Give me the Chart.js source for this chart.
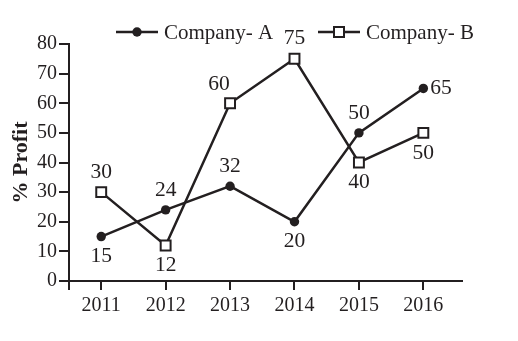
<!DOCTYPE html>
<html>
<head>
<meta charset="utf-8">
<script src="https://cdn.jsdelivr.net/npm/chart.js@4.4.0/dist/chart.umd.min.js"></script>
<style>
  html, body { margin: 0; padding: 0; background: #fff; }
  #wrap { width: 518px; height: 341px; }
</style>
</head>
<body>
<div id="wrap"><canvas id="profitChart" width="518" height="341"></canvas></div>
<script>
// Yearly % profit of the two companies
const years = [2011, 2012, 2013, 2014, 2015, 2016];
const companyA = [15, 24, 32, 20, 50, 65];
const companyB = [30, 12, 60, 75, 40, 50];
const yTicks = [0, 10, 20, 30, 40, 50, 60, 70, 80];

const ink = '#231f20';
const serif = "'Liberation Serif', 'Times New Roman', serif";

// Value labels next to each point, placed per dataset
const valueLabels = {
    id: 'valueLabels',
    afterDatasetsDraw(chart) {
        const ctx = chart.ctx;
        ctx.save();
        ctx.font = '21.5px ' + serif;
        ctx.fillStyle = ink;
        ctx.textBaseline = 'middle';
        chart.data.datasets.forEach((ds, di) => {
            const meta = chart.getDatasetMeta(di);
            meta.data.forEach((pt, i) => {
                const where = ds.labelPlace[i];
                let x = pt.x, y = pt.y;
                ctx.textAlign = 'center';
                if (where === 'above') y -= 20;
                else if (where === 'aboveLeft') { y -= 19; x -= 11; }
                else if (where === 'below') y += 20;
                else if (where === 'right') { x += 7; ctx.textAlign = 'left'; }
                ctx.fillText(String(ds.data[i].y), x, y);
            });
        });
        ctx.restore();
    }
};

// Legend drawn as line + marker + text above the plot
const lineLegend = {
    id: 'lineLegend',
    afterDraw(chart) {
        const ctx = chart.ctx;
        const items = [
            { x: 116, label: 'Company- A', marker: 'circle' },
            { x: 318, label: 'Company- B', marker: 'square' }
        ];
        const y = 32;
        ctx.save();
        ctx.strokeStyle = ink;
        ctx.fillStyle = ink;
        ctx.lineWidth = 2.5;
        ctx.font = '21px ' + serif;
        ctx.textBaseline = 'middle';
        ctx.textAlign = 'left';
        items.forEach(it => {
            ctx.beginPath();
            ctx.moveTo(it.x, y);
            ctx.lineTo(it.x + 42, y);
            ctx.stroke();
            const cx = it.x + 21;
            if (it.marker === 'circle') {
                ctx.beginPath();
                ctx.arc(cx, y, 4.7, 0, Math.PI * 2);
                ctx.fill();
            } else {
                ctx.fillStyle = '#fff';
                ctx.fillRect(cx - 5, y - 5, 10, 10);
                ctx.lineWidth = 2;
                ctx.strokeRect(cx - 5, y - 5, 10, 10);
                ctx.fillStyle = ink;
                ctx.lineWidth = 2.5;
            }
            ctx.fillText(it.label, it.x + 48, y + 1);
        });
        ctx.restore();
    }
};

const ctx = document.getElementById('profitChart').getContext('2d');
const chart = new Chart(ctx, {
    type: 'line',
    data: {
        datasets: [
            {
                label: 'Company- A',
                data: years.map((yr, i) => ({ x: yr, y: companyA[i] })),
                borderColor: ink,
                borderWidth: 2.5,
                tension: 0,
                pointStyle: 'circle',
                pointRadius: 4.7,
                pointBackgroundColor: ink,
                pointBorderWidth: 0,
                labelPlace: ['below', 'above', 'above', 'below', 'above', 'right'],
                clip: false
            },
            {
                label: 'Company- B',
                data: years.map((yr, i) => ({ x: yr, y: companyB[i] })),
                borderColor: ink,
                borderWidth: 2.5,
                tension: 0,
                pointStyle: 'rect',
                pointRadius: 7,
                pointBackgroundColor: '#fff',
                pointBorderColor: ink,
                pointBorderWidth: 2,
                labelPlace: ['above', 'below', 'aboveLeft', 'above', 'below', 'below'],
                clip: false
            }
        ]
    },
    options: {
        responsive: false,
        animation: false,
        layout: { padding: { top: 44, right: 56, left: 0, bottom: 0 } },
        plugins: {
            legend: { display: false },
            tooltip: { enabled: false }
        },
        scales: {
            x: {
                type: 'linear',
                min: 2010.5,
                max: 2016.6,
                afterBuildTicks: s => {
                    s.ticks = [{ value: 2010.5 }].concat(years.map(v => ({ value: v })));
                },
                afterFit: s => { s.height = 60; },
                ticks: {
                    callback: v => years.includes(v) ? String(v) : '',
                    autoSkip: false,
                    maxRotation: 0,
                    padding: 4,
                    color: ink,
                    font: { family: serif, size: 20 }
                },
                grid: { drawOnChartArea: false, drawTicks: true, tickLength: 9, color: ink, lineWidth: 2 },
                border: { display: true, color: ink, width: 2 }
            },
            y: {
                min: 0,
                max: 80,
                afterBuildTicks: s => {
                    s.ticks = yTicks.map(v => ({ value: v }));
                },
                afterFit: s => { s.width = 69; },
                ticks: {
                    padding: 2,
                    color: ink,
                    font: { family: serif, size: 20 }
                },
                grid: { drawOnChartArea: false, drawTicks: true, tickLength: 10, color: ink, lineWidth: 2 },
                border: { display: true, color: ink, width: 2 },
                title: {
                    display: true,
                    text: '% Profit',
                    color: ink,
                    padding: { top: 8, bottom: 0 },
                    font: { family: serif, size: 22, weight: 'bold' }
                }
            }
        }
    },
    plugins: [valueLabels, lineLegend]
});
</script>
</body>
</html>
